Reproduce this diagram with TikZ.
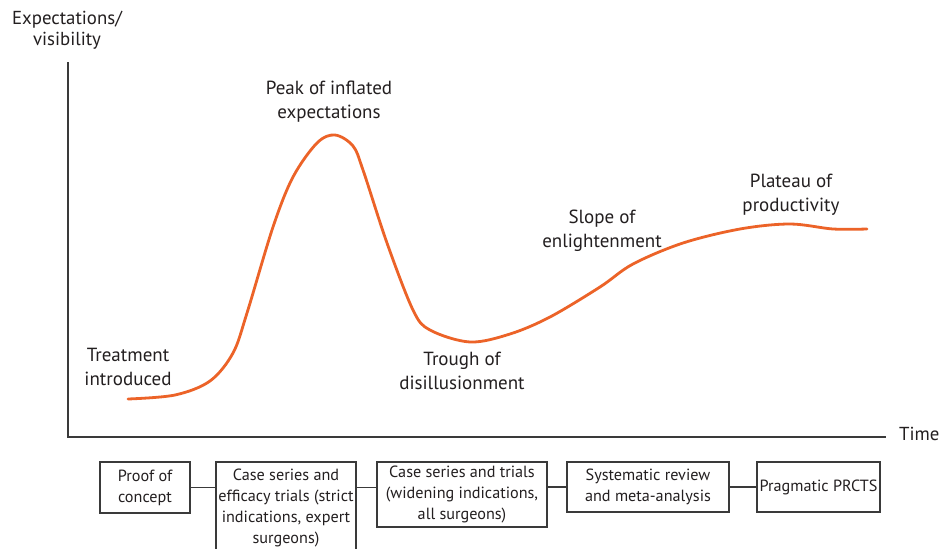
\documentclass[tikz,border=0pt]{standalone}
\usepackage{fontspec}
\setmainfont{PT Sans}
\begin{document}
\begin{tikzpicture}[x=1pt,y=-1pt,
  lbl/.style={align=center,font=\fontsize{19}{24}\selectfont,text=txt,inner sep=0pt},
  axt/.style={align=center,font=\fontsize{18.8}{21}\selectfont,text=txt,inner sep=0pt},
  boxs/.style={draw=axisc,line width=1.2pt,align=center,font=\fontsize{16.2}{21}\selectfont,text=txt,inner sep=0pt},
  axisl/.style={draw=axisc,line width=1.4pt},
  link/.style={draw=axisc,line width=1.2pt},
  hype/.style={draw=hypec,line width=2.8pt,line cap=round}]
\definecolor{hypec}{HTML}{EC6328}
\definecolor{axisc}{HTML}{3A3A3A}
\definecolor{txt}{HTML}{231F20}
\useasboundingbox (0,0) rectangle (943,549);
\fill[white] (0,0) rectangle (943,549);
% axes
\coordinate (o) at (68,437);
\coordinate (ytop) at (68,62);
\coordinate (xend) at (886,437);
\draw[axisl] (ytop) -- (o) -- (xend);
\node[axt] (ylab) at (67,30) {Expectations/\\visibility};
\node[axt,anchor=west] (xlab) at (899,434) {Time};
% hype curve
\draw[hype] plot[smooth,tension=0.55] coordinates {
 (128,399) (175,395) (210,381) (233,353) (247,313) (273,227) (293,177) (317,143) (335,135) (353,146) (363,170) (387,243) (413,310) (430,330) (470,342) (510,334) (550,317) (600,287) (633,264) (683,243) (740,229) (790,224) (833,229) (867,229)};
% labels
\node[lbl] (l1) at (128,367) {Treatment\\introduced};
\node[lbl] (l2) at (329,102) {Peak of inflated\\expectations};
\node[lbl] (l3) at (462,371) {Trough of\\disillusionment};
\node[lbl] (l4) at (602,231) {Slope of\\enlightenment};
\node[lbl] (l5) at (791,195) {Plateau of\\productivity};
% boxes
\node[boxs,minimum width=90pt,minimum height=51pt] (b1) at (145,487.5) {Proof of\\concept};
\node[boxs,minimum width=140pt,minimum height=92pt] (b2) at (286,508) {Case series and\\efficacy trials (strict\\indications, expert\\surgeons)};
\node[boxs,minimum width=170pt,minimum height=65pt] (b3) at (462,494.5) {Case series and trials\\(widening indications,\\all surgeons)};
\node[boxs,minimum width=162pt,minimum height=50pt] (b4) at (648,487) {Systematic review\\and meta-analysis};
\node[boxs,minimum width=123pt,minimum height=50pt] (b5) at (818.5,487) {Pragmatic PRCTS};
% links
\draw[link] (b1.east) -- (b1.east -| b2.west);
\draw[link] (b2.east |- b1.east) -- (b3.west |- b1.east);
\draw[link] (b3.east |- b4.west) -- (b4.west);
\draw[link] (b4.east) -- (b5.west);
\end{tikzpicture}
\end{document}
